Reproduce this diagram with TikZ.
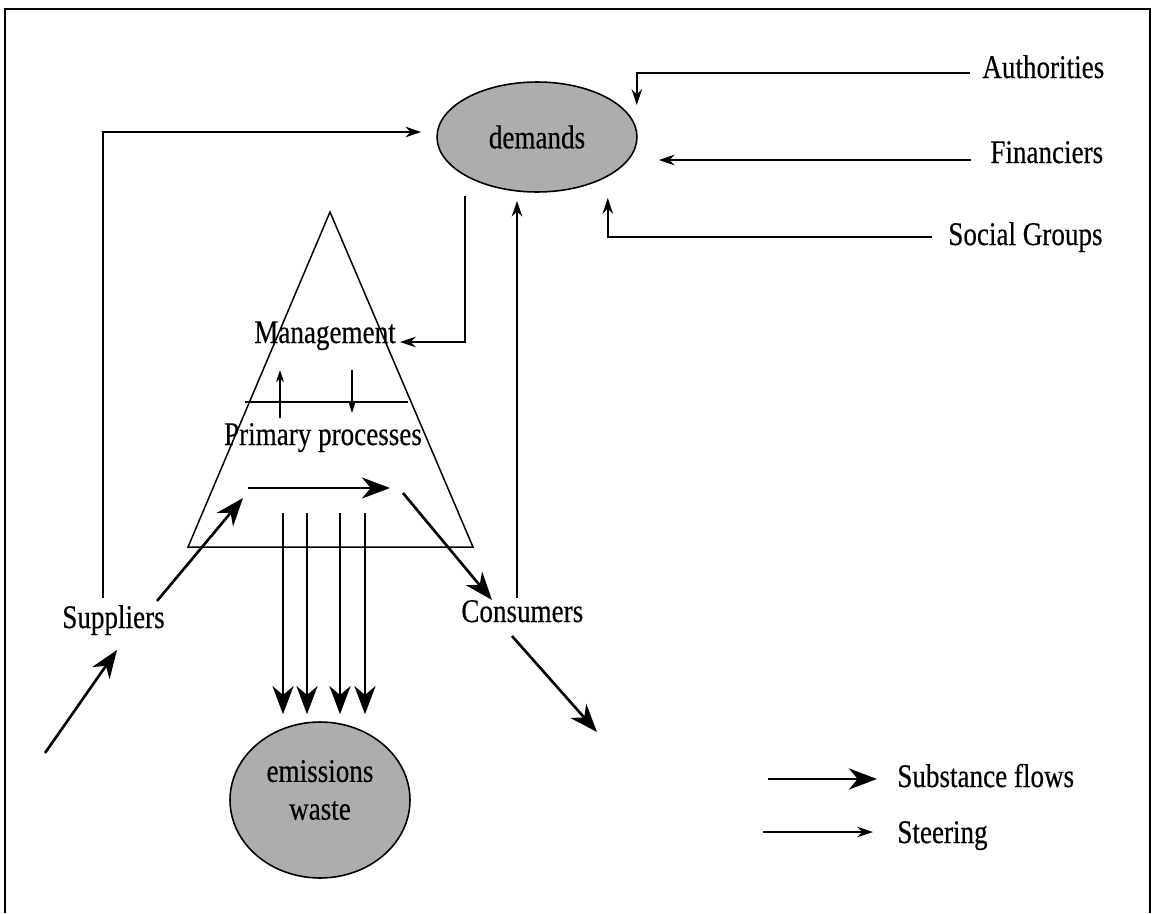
\documentclass[tikz,border=0pt]{standalone}
\usepackage{fontspec}
\setmainfont{Liberation Serif}[FakeStretch=0.82,FakeBold=0.4]
\usetikzlibrary{arrows.meta,calc,shapes.geometric}
\begin{document}
\begin{tikzpicture}[x=0.02cm,y=-0.02cm,
 lab/.style={inner sep=0pt,font=\fontsize{18.8}{21.5}\selectfont},
 blob/.style={ellipse,draw,line width=0.9pt,fill=black!32,inner sep=0pt},
 steer/.style={line width=0.85pt,-{Stealth[length=9pt,width=6pt]}},
 steersmall/.style={line width=0.85pt,-{Stealth[length=7pt,width=4.5pt]}},
 subst/.style={line width=1.5pt,-{Stealth[length=16pt,width=12pt,inset=5pt]}},
 thinline/.style={line width=0.85pt}]
\useasboundingbox (0,0) rectangle (1156,913);
\draw[line width=1.4pt] (5,913) -- (5,9) -- (1150,9) -- (1150,913);

% ellipses
\node[blob,lab,minimum width=4cm,minimum height=2.2cm] (demands) at (537,137) {demands};
\node[blob,minimum width=3.6cm,minimum height=3.12cm] (emis) at (320,800) {};
\node[lab,align=center] (emtxt) at (320,790) {emissions\\waste};

% pyramid
\draw[thinline] (330,212) -- (188,547) -- (473,547) -- cycle;
\draw[thinline] (245,402) -- (408,402);

% labels
\node[lab,anchor=base] (mgmt) at (325,343) {Management};
\node[lab,anchor=base] (prim) at (323,445) {Primary processes};
\node[lab,anchor=base west] (supp) at (62,628) {Suppliers};
\node[lab,anchor=base west] (cons) at (461,622) {Consumers};
\node[lab,anchor=base west] (auth) at (982,78) {Authorities};
\node[lab,anchor=base west] (fin) at (990,163) {Financiers};
\node[lab,anchor=base west] (soc) at (948,245) {Social Groups};
\node[lab,anchor=base west] (lsub) at (897,787) {Substance flows};
\node[lab,anchor=base west] (lste) at (897,843) {Steering};

% steering connectors
\draw[steer] ($(auth.base west)+(-12,-5)$) -| ($(demands.east)+(-1,-32)$);
\draw[steer] ($(fin.base west)+(-19,-3)$) -- ($(demands.east)+(21,23)$);
\draw[steer] ($(soc.base west)+(-16,-8)$) -| ($(demands.east)+(-30,61)$);
\draw[steer] ($(supp.base west)+(41,-30)$) |- ($(demands.west)+(-15,-5)$);
\draw[steer] ($(demands.south)+(-72,3)$) |- ($(mgmt.base)+(75,-1)$);
\draw[steer] ($(cons.base west)+(56,-24)$) -- ($(demands.south)+(-20,8)$);
\draw[steersmall] ($(prim.base)+(-43,-27)$) -- ($(mgmt.base)+(-45,27)$);
\draw[steersmall] ($(mgmt.base)+(27,27)$) -- ($(prim.base)+(29,-32)$);

% substance flows
\coordinate (pin) at (248,488);
\coordinate (pout) at (390,488);
\coordinate (src) at (45,753);
\coordinate (sink) at (597,732);
\draw[subst] (pin) -- (pout);
\draw[subst] ($(supp.base west)+(95,-27)$) -- ($(pin)+(-5,10)$);
\draw[subst] ($(pout)+(13,5)$) -- ($(cons.base west)+(31,-22)$);
\draw[subst] (src) -- ($(supp.base west)+(55,22)$);
\draw[subst] ($(cons.base west)+(51,14)$) -- (sink);
\foreach \dx in {-37,-13,20,45}
  \draw[subst] (320+\dx,513) -- ($(emis.north)+(\dx,-7)$);

% legend
\coordinate (lg1) at (768,779);
\coordinate (lg2) at (763,832);
\draw[subst] (lg1) -- ($(lsub.base west)+(-20,-8)$);
\draw[steer] (lg2) -- ($(lste.base west)+(-24,-11)$);
\end{tikzpicture}
\end{document}
